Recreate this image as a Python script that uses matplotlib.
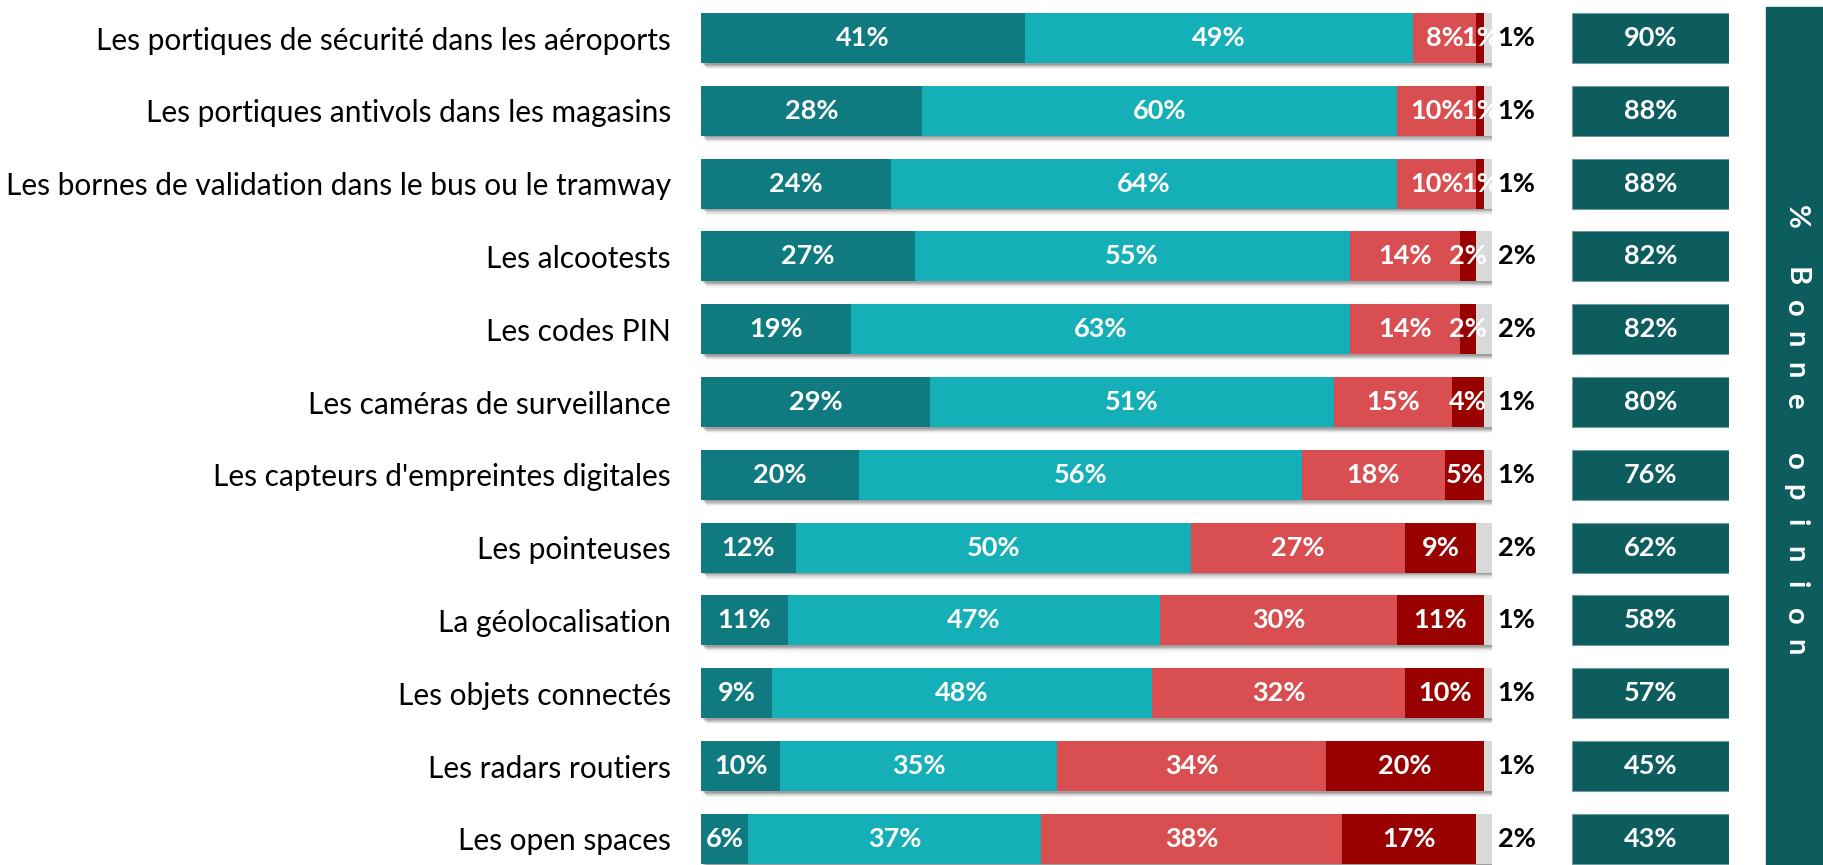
import matplotlib
matplotlib.use('Agg')
import matplotlib.pyplot as plt
from matplotlib import patheffects as pe
from matplotlib.patches import Rectangle

categories = [
    "Les portiques de sécurité dans les aéroports",
    "Les portiques antivols dans les magasins",
    "Les bornes de validation dans le bus ou le tramway",
    "Les alcootests",
    "Les codes PIN",
    "Les caméras de surveillance",
    "Les capteurs d'empreintes digitales",
    "Les pointeuses",
    "La géolocalisation",
    "Les objets connectés",
    "Les radars routiers",
    "Les open spaces",
]
tres_bonne = [41, 28, 24, 27, 19, 29, 20, 12, 11, 9, 10, 6]
plutot_bonne = [49, 60, 64, 55, 63, 51, 56, 50, 47, 48, 35, 37]
plutot_mauvaise = [8, 10, 10, 14, 14, 15, 18, 27, 30, 32, 34, 38]
tres_mauvaise = [1, 1, 1, 2, 2, 4, 5, 9, 11, 10, 20, 17]
nsp = [1, 1, 1, 2, 2, 1, 1, 2, 1, 1, 1, 2]
bonne_opinion = [90, 88, 88, 82, 82, 80, 76, 62, 58, 57, 45, 43]
panel_title = "% Bonne opinion"

series = [tres_bonne, plutot_bonne, plutot_mauvaise, tres_mauvaise, nsp]
colors = ["#0F7A80", "#14AFB7", "#D94F51", "#990000", "#D9D9D9"]

FONT = "Lato"
plt.rcParams['font.family'] = [FONT, 'DejaVu Sans']

W, H = 1823, 865
fig = plt.figure(figsize=(W / 100, H / 100), dpi=100)

pitch = 72.8
row0 = 38
bar_h = 50 / pitch
ylim = ((H - row0) / pitch, -row0 / pitch)

ax = fig.add_axes([701 / W, 0, (1492 - 701) / W, 1])
ax.set_xlim(0, 100)
ax.set_ylim(*ylim)
ypos = list(range(len(categories)))

totals = [sum(s[i] for s in series) for i in ypos]
# soft drop shadow (stacked layers)
for off, a in [((4.5, -4.5), 0.06), ((3.6, -3.6), 0.09), ((2.8, -2.8), 0.13),
               ((2.0, -2.0), 0.16), ((1.2, -1.2), 0.2)]:
    ax.barh(ypos, totals, height=bar_h, left=0, color='none',
            path_effects=[pe.SimplePatchShadow(offset=off, shadow_rgbFace='#404040', alpha=a)],
            zorder=1)

left = [0] * len(ypos)
for si, (vals, col) in enumerate(zip(series, colors)):
    ax.barh(ypos, vals, height=bar_h, left=left, color=col, edgecolor='none', zorder=2)
    for i, v in enumerate(vals):
        if si < 4:
            ax.text(left[i] + v / 2, i, f"{v}%", ha='center', va='center',
                    color='white', fontsize=19.5, fontweight='bold', zorder=3)
        else:
            ax.text(left[i] + v + 0.7, i, f"{v}%", ha='left', va='center',
                    color='black', fontsize=19.5, fontweight='bold', zorder=3)
    left = [l + v for l, v in zip(left, vals)]

ax.set_yticks(ypos)
ax.set_yticklabels(categories, fontsize=21.5)
ax.tick_params(axis='y', length=0, pad=21.6)
ax.set_xticks([])
for s in ax.spines.values():
    s.set_visible(False)
ax.patch.set_alpha(0)

# right column of "bonne opinion"
ax2 = fig.add_axes([1572 / W, 0, (1729 - 1572) / W, 1])
ax2.set_xlim(0, 1)
ax2.set_ylim(*ylim)
ax2.barh(ypos, [1] * len(ypos), height=bar_h, left=0, color="#0D5C5E",
         edgecolor="#6E9C9E", linewidth=0.8)
for i, v in enumerate(bonne_opinion):
    ax2.text(0.5, i, f"{v}%", ha='center', va='center', color='white',
             fontsize=19.5, fontweight='bold')
ax2.axis('off')

# vertical panel
fig.patches.append(Rectangle((1766 / W, 0), (W - 1766) / W, (H - 7) / H,
                             transform=fig.transFigure, color="#0D5C5E", zorder=0))
y = 217
xc = (1766 + W) / 2 + 1
for ch in panel_title:
    if ch != ' ':
        fig.text(xc / W, 1 - y / H, ch, rotation=-90, ha='center', va='center',
                 color='white', fontsize=21, fontweight='bold')
        y += 31
    else:
        y += 29

fig.savefig("out.png", dpi=100)
